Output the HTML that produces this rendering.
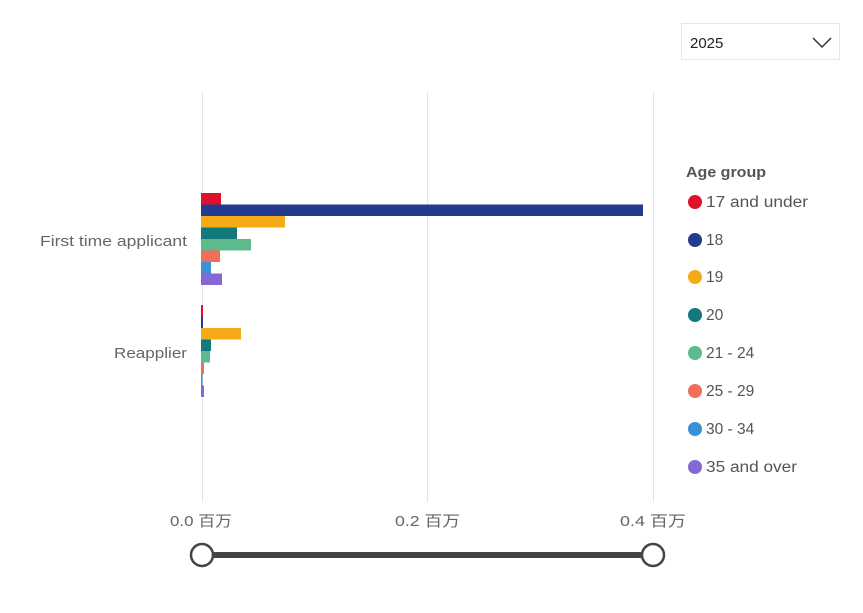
<!DOCTYPE html>
<html><head><meta charset="utf-8"><style>
body{margin:0;background:#fff;}
svg{display:block;font-family:"Liberation Sans","Noto Sans CJK SC",sans-serif;}
</style></head><body>
<svg width="863" height="613" xmlns="http://www.w3.org/2000/svg">
<rect x="681.5" y="23.5" width="158" height="36" fill="#fff" stroke="#e6e6e6"/>
<text x="690" y="48" font-size="15" fill="#222">2025</text>
<polyline points="813,38 822,47 831,38" fill="none" stroke="#333" stroke-width="1.5"/>
<g stroke="#e4e4e4" stroke-width="1">
<line x1="202.5" y1="92" x2="202.5" y2="502"/>
<line x1="427.5" y1="92" x2="427.5" y2="502"/>
<line x1="653.5" y1="92" x2="653.5" y2="502"/>
</g>
<g>
<rect x="201" y="193" width="20" height="11.5" fill="#e0102a"/>
<rect x="201" y="204.5" width="442" height="11.5" fill="#233a8f"/>
<rect x="201" y="216" width="84" height="11.5" fill="#f5aa17"/>
<rect x="201" y="227.5" width="36" height="11.5" fill="#127a7a"/>
<rect x="201" y="239" width="50" height="11.5" fill="#5dba8c"/>
<rect x="201" y="250.5" width="19" height="11.5" fill="#f26e5c"/>
<rect x="201" y="262" width="10" height="11.5" fill="#3b90d6"/>
<rect x="201" y="273.5" width="21" height="11.5" fill="#8468d6"/>
<rect x="201" y="305" width="2" height="11.5" fill="#e0102a"/>
<rect x="201" y="316.5" width="2" height="11.5" fill="#233a8f"/>
<rect x="201" y="328" width="40" height="11.5" fill="#f5aa17"/>
<rect x="201" y="339.5" width="10" height="11.5" fill="#127a7a"/>
<rect x="201" y="351" width="9" height="11.5" fill="#5dba8c"/>
<rect x="201" y="362.5" width="3" height="11.5" fill="#f26e5c"/>
<rect x="201" y="374" width="1.5" height="11.5" fill="#3b90d6"/>
<rect x="201" y="385.5" width="3" height="11.5" fill="#8468d6"/>
</g>
<g font-size="15" fill="#666">
<text x="40" y="246" textLength="147" lengthAdjust="spacingAndGlyphs">First time applicant</text>
<text x="114" y="358" textLength="73" lengthAdjust="spacingAndGlyphs">Reapplier</text>
</g>
<g font-size="15" fill="#666">
<text x="170" y="526" textLength="62" lengthAdjust="spacingAndGlyphs">0.0 百万</text>
<text x="395" y="526" textLength="65" lengthAdjust="spacingAndGlyphs">0.2 百万</text>
<text x="620" y="526" textLength="66" lengthAdjust="spacingAndGlyphs">0.4 百万</text>
</g>
<line x1="202" y1="555" x2="653" y2="555" stroke="#444" stroke-width="6"/>
<circle cx="202" cy="555" r="11" fill="#fff" stroke="#444" stroke-width="2.5"/>
<circle cx="653" cy="555" r="11" fill="#fff" stroke="#444" stroke-width="2.5"/>
<text x="686" y="177" font-size="15" font-weight="bold" fill="#555" textLength="80" lengthAdjust="spacingAndGlyphs">Age group</text>
<g font-size="15.5" fill="#555">
<circle cx="695" cy="202" r="7" fill="#e0102a"/><text x="706" y="207" textLength="102" lengthAdjust="spacingAndGlyphs">17 and under</text>
<circle cx="695" cy="240" r="7" fill="#233a8f"/><text x="706" y="245">18</text>
<circle cx="695" cy="277" r="7" fill="#f5aa17"/><text x="706" y="282">19</text>
<circle cx="695" cy="315" r="7" fill="#127a7a"/><text x="706" y="320">20</text>
<circle cx="695" cy="353" r="7" fill="#5dba8c"/><text x="706" y="358">21 - 24</text>
<circle cx="695" cy="391" r="7" fill="#f26e5c"/><text x="706" y="396">25 - 29</text>
<circle cx="695" cy="429" r="7" fill="#3b90d6"/><text x="706" y="434">30 - 34</text>
<circle cx="695" cy="467" r="7" fill="#8468d6"/><text x="706" y="472" textLength="91" lengthAdjust="spacingAndGlyphs">35 and over</text>
</g>
</svg>
</body></html>
